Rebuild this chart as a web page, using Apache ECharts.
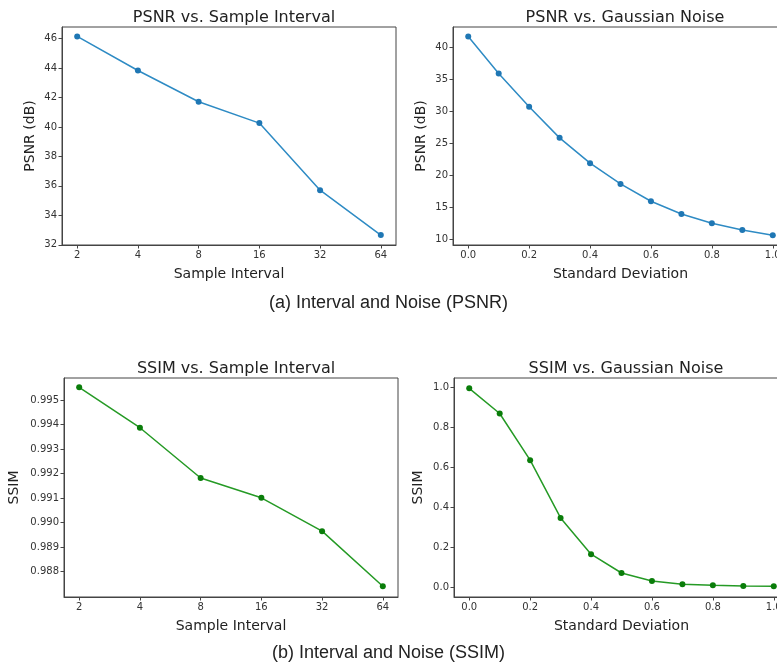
<!DOCTYPE html>
<html><head><meta charset="utf-8">
<script src="https://cdn.jsdelivr.net/npm/echarts@6/dist/echarts.min.js"></script>
<style>html,body{margin:0;padding:0;background:#fff}#c{width:777px;height:668px}</style>
</head><body><div id="c"></div>
<script>
const intervalCats = ['2','4','8','16','32','64'];
const psnrInterval = [46.14, 43.83, 41.71, 40.26, 35.71, 32.66];
const ssimInterval = [0.99552, 0.99387, 0.99182, 0.99101, 0.98965, 0.98740];
const noiseStd = [0.0, 0.1, 0.2, 0.3, 0.4, 0.5, 0.6, 0.7, 0.8, 0.9, 1.0];
const psnrNoise = [41.72, 35.93, 30.71, 25.86, 21.90, 18.66, 15.95, 13.96, 12.50, 11.46, 10.63];
const ssimNoise = [0.995, 0.869, 0.635, 0.346, 0.164, 0.070, 0.030, 0.014, 0.009, 0.005, 0.004];
const psnrIntervalTicks = [32, 34, 36, 38, 40, 42, 44, 46];
const psnrNoiseTicks = [10, 15, 20, 25, 30, 35, 40];
const ssimIntervalTicks = [0.988, 0.989, 0.990, 0.991, 0.992, 0.993, 0.994, 0.995];
const ssimNoiseTicks = [0.0, 0.2, 0.4, 0.6, 0.8, 1.0];
const noiseTicks = [0.0, 0.2, 0.4, 0.6, 0.8, 1.0];

const chart = echarts.init(document.getElementById('c'), null, {renderer: 'canvas'});
const FONT = 'DejaVu Sans';
const frame = '#444';
const tickLbl = {fontFamily: FONT, fontSize: 10, color: '#333'};

const grids = [
  {left: 62, top: 27, width: 334, height: 218},
  {left: 453, top: 27, width: 335, height: 218},
  {left: 64, top: 378, width: 334, height: 219},
  {left: 454, top: 378, width: 335, height: 219}
].map(g => Object.assign({show: true, borderColor: frame, borderWidth: 1, backgroundColor: 'transparent',
  containLabel: false, outerBoundsMode: 'none'}, g));

function xAx(grid, min, max, ticks, fmt, name) {
  return {
    type: 'value', gridIndex: grid, min: min, max: max,
    name: name, nameLocation: 'middle', nameGap: 22,
    nameTextStyle: {fontFamily: FONT, fontSize: 14, color: '#222'},
    axisLine: {show: true, onZero: false, lineStyle: {color: frame, width: 1}},
    axisTick: {show: true, length: 3.5, customValues: ticks, lineStyle: {color: frame}},
    axisLabel: Object.assign({customValues: ticks, formatter: fmt, margin: 5}, tickLbl),
    splitLine: {show: false}
  };
}
function yAx(grid, min, max, ticks, fmt, name, gap) {
  return {
    type: 'value', gridIndex: grid, min: min, max: max,
    name: name, nameLocation: 'middle', nameGap: gap,
    nameTextStyle: {fontFamily: FONT, fontSize: 14, color: '#222'},
    axisLine: {show: true, onZero: false, lineStyle: {color: frame, width: 1}},
    axisTick: {show: true, length: 3.5, customValues: ticks, lineStyle: {color: frame}},
    axisLabel: Object.assign({customValues: ticks, formatter: fmt, margin: 5}, tickLbl),
    splitLine: {show: false}
  };
}
const catIdx = intervalCats.map((c, i) => i);
const catFmt = v => intervalCats[Math.round(v)];

const blueLine = '#2e8bc4', blueDot = '#1f77b4';
const greenLine = '#259a25', greenDot = '#0a7d0a';

function ser(xi, xs, ys, lc, dc) {
  return {
    type: 'line', xAxisIndex: xi, yAxisIndex: xi,
    data: xs.map((x, i) => [x, ys[i]]),
    symbol: 'circle', symbolSize: 6,
    lineStyle: {color: lc, width: 1.5},
    itemStyle: {color: dc},
    silent: true, animation: false
  };
}

const titleStyle = {fontFamily: FONT, fontSize: 16, fontWeight: 'normal', color: '#222'};

chart.setOption({
  animation: false,
  title: [
    {text: 'PSNR vs. Sample Interval', left: 229, top: 5, textAlign: 'center', textStyle: titleStyle},
    {text: 'PSNR vs. Gaussian Noise', left: 620, top: 5, textAlign: 'center', textStyle: titleStyle},
    {text: 'SSIM vs. Sample Interval', left: 231, top: 356, textAlign: 'center', textStyle: titleStyle},
    {text: 'SSIM vs. Gaussian Noise', left: 621, top: 356, textAlign: 'center', textStyle: titleStyle}
  ],
  grid: grids,
  xAxis: [
    xAx(0, -0.25, 5.25, catIdx, catFmt, 'Sample Interval'),
    xAx(1, -0.05, 1.05, noiseTicks, v => v.toFixed(1), 'Standard Deviation'),
    xAx(2, -0.25, 5.25, catIdx, catFmt, 'Sample Interval'),
    xAx(3, -0.05, 1.05, noiseTicks, v => v.toFixed(1), 'Standard Deviation')
  ],
  yAxis: [
    yAx(0, 31.99, 46.78, psnrIntervalTicks, v => String(Math.round(v)), 'PSNR (dB)', 25),
    yAx(1, 9.11, 43.19, psnrNoiseTicks, v => String(Math.round(v)), 'PSNR (dB)', 25),
    yAx(2, 0.986962, 0.995899, ssimIntervalTicks, v => v.toFixed(3), 'SSIM', 43),
    yAx(3, -0.0502, 1.0467, ssimNoiseTicks, v => v.toFixed(1), 'SSIM', 29)
  ],
  series: [
    ser(0, catIdx, psnrInterval, blueLine, blueDot),
    ser(1, noiseStd, psnrNoise, blueLine, blueDot),
    ser(2, catIdx, ssimInterval, greenLine, greenDot),
    ser(3, noiseStd, ssimNoise, greenLine, greenDot)
  ],
  graphic: [
    {type: 'text', left: 'center', top: 294, style: {text: '(a) Interval and Noise (PSNR)', font: '18px "Liberation Sans"', fill: '#222'}},
    {type: 'text', left: 'center', top: 644, style: {text: '(b) Interval and Noise (SSIM)', font: '18px "Liberation Sans"', fill: '#222'}}
  ]
});
</script></body></html>
